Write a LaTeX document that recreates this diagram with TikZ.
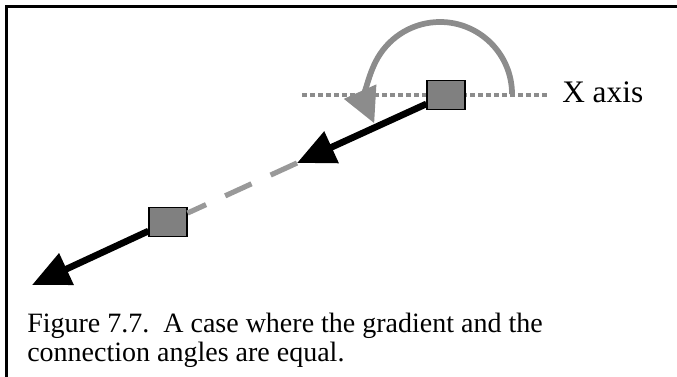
\documentclass[tikz,border=0pt]{standalone}
\usepackage{fontspec}
\setmainfont{Liberation Serif}
\usetikzlibrary{arrows.meta,positioning}
\definecolor{boxgray}{HTML}{808080}
\definecolor{arcgray}{HTML}{8C8C8C}
\definecolor{dashgray}{HTML}{999999}

\begin{document}
\begin{tikzpicture}[
  x=0.75pt, y=0.75pt,
  point/.style={rectangle, draw=black, line width=0.8pt, fill=boxgray,
                minimum width=28.5pt, minimum height=22pt, inner sep=0pt},
  dir/.style={-{Triangle[length=28.5pt, width=25pt]}, line width=5pt, black},
  turn/.style={-{Triangle[length=26pt, width=25.5pt]}, line width=4.3pt, arcgray},
  axisline/.style={arcgray, line width=2.6pt, dash pattern=on 3.75pt off 2.25pt},
  prev/.style={dashgray, line width=3.9pt, dash pattern=on 21.75pt off 15.75pt},
  caption/.style={font=\fontsize{21}{21.75}\selectfont, align=left, inner sep=0pt},
]
\useasboundingbox (0,0) rectangle (677,377);

% frame (top and left only)
\draw[line width=2.25pt] (677,370) -- (6,370) -- (6,0);

% x axis through the upper point
\coordinate (Xl) at (302,282);
\coordinate (Xr) at (547,282);
\draw[axisline] (Xl) -- (Xr);
\node[font=\fontsize{23.5}{24}\selectfont, anchor=base west, inner sep=0pt] (Xlab) at (562,274) {X axis};

% angle of the connection
\draw[turn] (512,283) arc[start angle=0, end angle=204, radius=72];

\node[point] (P1) at (446,282) {};
\node[point] (P2) at (168,155) {};
\coordinate (T1) at (297,214);
\coordinate (T2) at (32,92);

\draw[prev] (T1) -- (P2);
\draw[dir] (P1) -- (T1);
\draw[dir] (P2) -- (T2);

\node[caption, anchor=base west] (cap) at (27,15)
  {Figure 7.7.\ \ A case where the gradient and the\\connection angles are equal.};

\end{tikzpicture}
\end{document}
